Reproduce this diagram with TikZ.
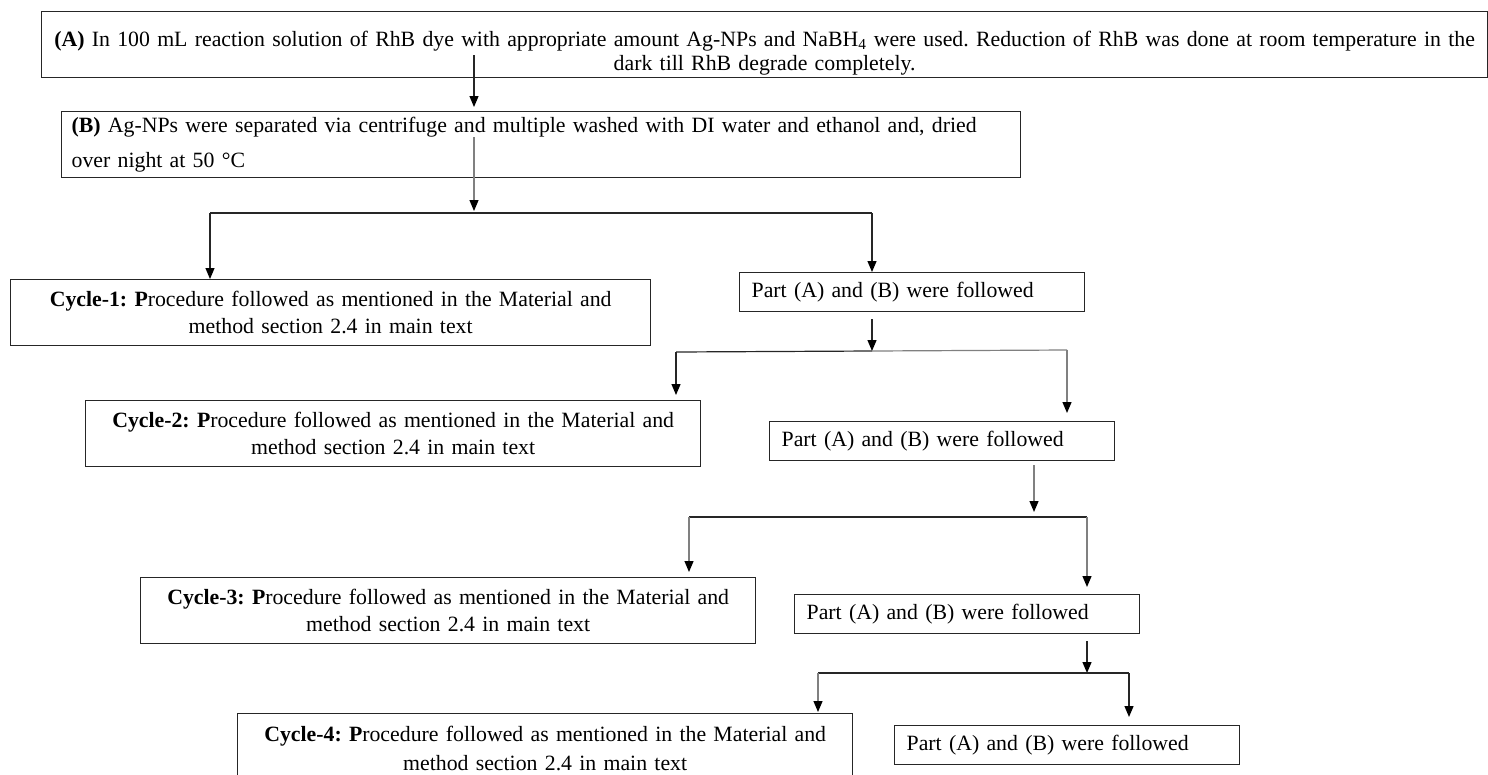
\documentclass[tikz,border=0pt]{standalone}
\usepackage{fontspec}
\setmainfont{Liberation Serif}
\usetikzlibrary{arrows.meta,calc}
\frenchspacing
\begin{document}
\begin{tikzpicture}[x=1pt,y=-1pt,
  box/.style={draw=black!85, line width=1.3pt, inner sep=0pt, anchor=north west},
  cyc/.style={box, minimum width=615, minimum height=66, align=center, text width=600, font=\fontsize{21.8}{27}\selectfont},
  part/.style={box, minimum width=345, minimum height=39, inner xsep=12pt, text width=321, align=left, font=\fontsize{21.8}{26}\selectfont},
  ln/.style={draw=black!85, line width=1.2pt},
  lng/.style={draw=black!50, line width=1.2pt},
  arr/.style={ln, -{Triangle[length=11pt,width=9pt,color=black]}},
  arrg/.style={lng, -{Triangle[length=11pt,width=9pt,color=black]}},
]
\useasboundingbox (0,0) rectangle (1488,774);

% boxes
\node[box, minimum width=1446, minimum height=66, align=center, text width=1440,
      font=\fontsize{21.8}{23.5}\selectfont] (A) at (41,11)
  {\rule{0pt}{32pt}\textbf{(A)} In 100 mL reaction solution of RhB dye with appropriate amount Ag-NPs and NaBH\textsubscript{4} were used. Reduction of RhB was done at room temperature in the\\ dark till RhB degrade completely.};
\node[box, minimum width=959, minimum height=66, inner xsep=10pt, text width=939, align=left,
      font=\fontsize{21.8}{35}\selectfont] (B) at (61,111)
  {\textbf{(B)} Ag-NPs were separated via centrifuge and multiple washed with DI water and ethanol and, dried\\ over night at 50 °C};

\node[cyc, minimum width=640] (C1) at (10,279)
  {\textbf{Cycle-1: P}rocedure followed as mentioned in the Material and\\ method section 2.4 in main text};
\node[part] (P1) at (739,272) {Part (A) and (B) were followed};

\node[cyc] (C2) at (85,400)
  {\textbf{Cycle-2: P}rocedure followed as mentioned in the Material and\\ method section 2.4 in main text};
\node[part] (P2) at (769,421) {Part (A) and (B) were followed};

\node[cyc] (C3) at (140,577)
  {\textbf{Cycle-3: P}rocedure followed as mentioned in the Material and\\ method section 2.4 in main text};
\node[part] (P3) at (794,594) {Part (A) and (B) were followed};

\node[cyc, minimum height=69, font=\fontsize{21.8}{29}\selectfont] (C4) at (237,713)
  {\textbf{Cycle-4: P}rocedure followed as mentioned in the Material and\\ method section 2.4 in main text};
\node[part] (P4) at (894,725) {Part (A) and (B) were followed};

% junctions
\coordinate (a0) at (474,55);
\coordinate (b0) at (474,137);
\coordinate (j1) at (474,213);
\coordinate (l1) at (210,213);
\coordinate (r1) at (872,213);
\coordinate (j2) at (872,351);
\coordinate (l2) at (676,352);
\coordinate (r2) at (1067,350);
\coordinate (j3) at (1034,517);
\coordinate (l3) at (689,517);
\coordinate (r3) at (1087,517);
\coordinate (j4) at (1087,673);
\coordinate (l4) at (818,673);
\coordinate (r4) at (1129,673);

% connectors
\draw[arr, shorten >=4pt] (a0) -- (a0 |- B.north);
\draw[arrg, shorten >=2pt] (b0) -- (j1);
\draw[ln] (l1) -- (r1);
\draw[arr] (l1) -- (l1 |- C1.north);
\draw[arr] (r1) -- (r1 |- P1.north);

\draw[arr, shorten <=7pt] (P1.south -| j2) -- (j2);
\draw[ln] (l2) -- (j2);
\draw[lng] (j2) -- (r2);
\draw[arr, shorten >=5pt] (l2) -- (l2 |- C2.north);
\draw[arrg, shorten >=8pt] (r2) -- (r2 |- P2.north);

\draw[arrg, shorten <=4pt, shorten >=5pt] (P2.south -| j3) -- (j3);
\draw[ln] (l3) -- (r3);
\draw[arrg, shorten >=5pt] (l3) -- (l3 |- C3.north);
\draw[arrg, shorten >=7pt] (r3) -- (r3 |- P3.north);

\draw[arr, shorten <=7pt] (P3.south -| j4) -- (j4);
\draw[ln] (l4) -- (r4);
\draw[arrg, shorten >=1pt] (l4) -- (l4 |- C4.north);
\draw[arr, shorten >=8pt] (r4) -- (r4 |- P4.north);
\end{tikzpicture}
\end{document}
